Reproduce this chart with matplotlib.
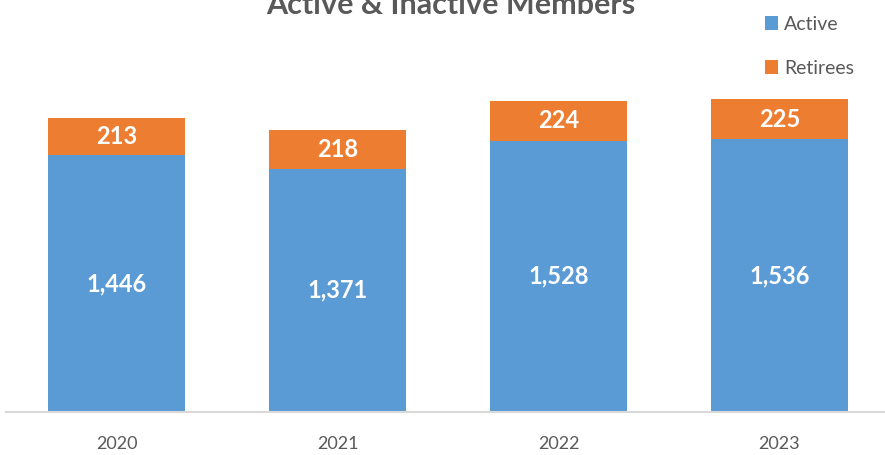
import matplotlib.pyplot as plt
import numpy as np

years = ['2020', '2021', '2022', '2023']
active = [1446, 1371, 1528, 1536]
retirees = [213, 218, 224, 225]

plt.rcParams['font.family'] = ['Lato', 'DejaVu Sans']

fig = plt.figure(figsize=(8.85, 4.55), dpi=100)
ax = fig.add_axes([6 / 885, 43 / 455, 884 / 885, 355 / 455])

x = np.arange(len(years))
b1 = ax.bar(x, active, width=0.62, color='#5B9BD5', label='Active')
b2 = ax.bar(x, retirees, width=0.62, bottom=active, color='#ED7D31', label='Retirees')

for i in range(len(years)):
    ax.text(x[i], active[i] / 2, f'{active[i]:,}', ha='center', va='center',
            color='white', fontsize=17, fontweight='bold')
    ax.text(x[i], active[i] + retirees[i] / 2, f'{retirees[i]:,}', ha='center', va='center',
            color='white', fontsize=17, fontweight='bold')

ax.set_xlim(-0.5, 3.5)
ax.set_ylim(0, 2000)
ax.set_xticks(x)
ax.set_xticklabels(years, fontsize=13, color='#595959')
ax.tick_params(axis='x', length=0, pad=17)
ax.set_yticks([])
for s in ['top', 'right', 'left']:
    ax.spines[s].set_visible(False)
ax.spines['bottom'].set_color('#D9D9D9')
ax.spines['bottom'].set_linewidth(1.5)

fig.text(451 / 885, 1 - 14 / 455, 'Active & Inactive Members', ha='center', va='baseline',
         fontsize=22, fontweight='bold', color='#595959')

leg = fig.legend(handles=[b1, b2], loc='upper left', bbox_to_anchor=(747 / 885, 1 + 2 / 455),
                 frameon=False, fontsize=14, labelspacing=1.4, handlelength=0.7,
                 handleheight=0.7, handletextpad=0.3)
for t in leg.get_texts():
    t.set_color('#595959')

fig.savefig('out.png', dpi=100)
